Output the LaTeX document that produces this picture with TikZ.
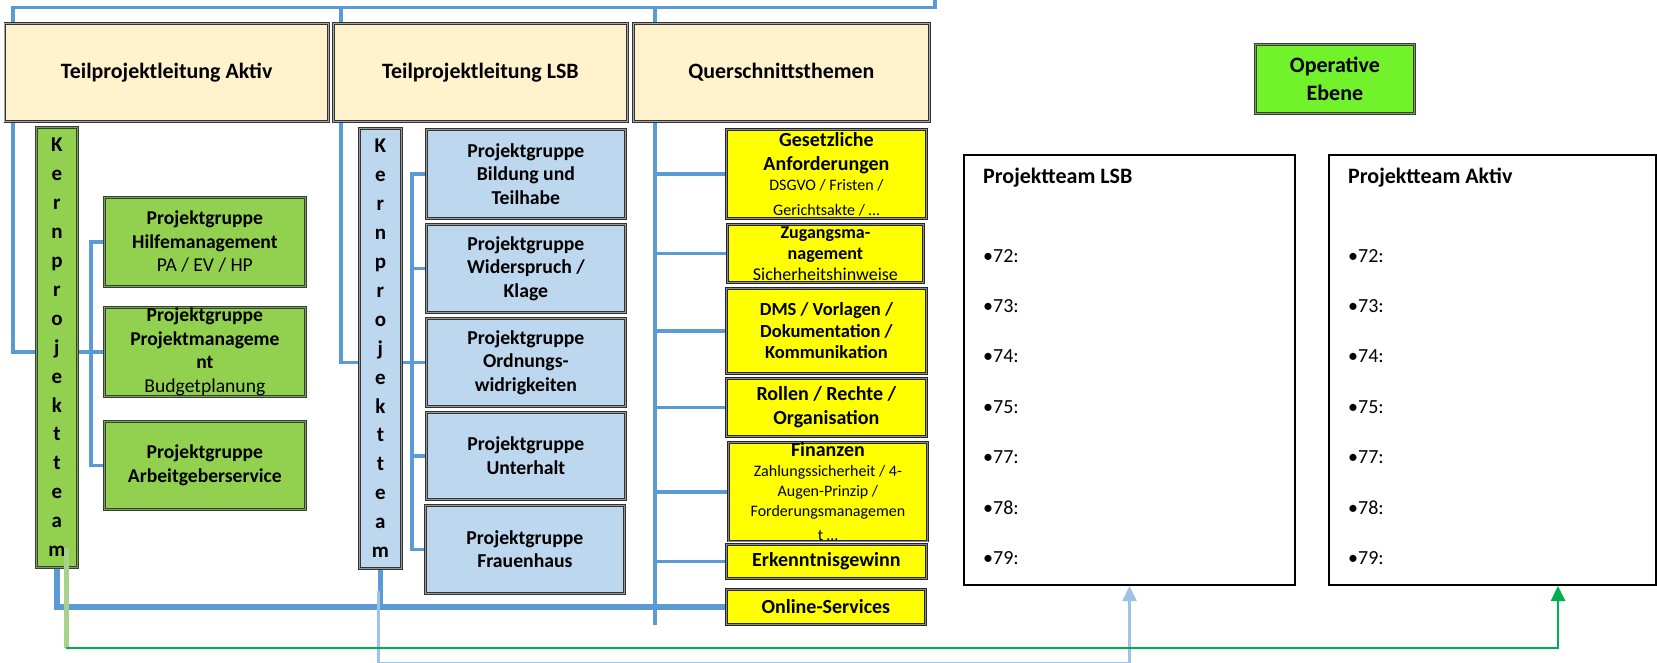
\documentclass[tikz,border=0pt]{standalone}
\usepackage{fontspec}
\setmainfont{Carlito}
\usetikzlibrary{arrows.meta}
\pgfdeclarelayer{bg}
\pgfsetlayers{bg,main}
\definecolor{hdrc}{HTML}{FFF2CC}
\definecolor{grnc}{HTML}{92D050}
\definecolor{blc}{HTML}{BDD7EE}
\definecolor{yelc}{HTML}{FFFF00}
\definecolor{opc}{HTML}{72F22A}
\definecolor{lnb}{HTML}{5B9BD5}
\definecolor{lbl}{HTML}{9DC3E6}
\definecolor{lgr}{HTML}{A9D18E}
\definecolor{dgr}{HTML}{00B050}
\definecolor{gdark}{HTML}{2E4A1A}
\tikzset{
  boxbase/.style={rectangle, anchor=north west, inner sep=0pt, align=flush center,
    line width=0.8pt, double distance=0.9pt},
  sz/.style 2 args={minimum width=#1 pt, minimum height=#2 pt, text width=#1 pt - 6pt},
  hdrbox/.style={boxbase, draw=black!80, double=black!35, fill=hdrc,
    font=\fontsize{21.9}{26}\selectfont\bfseries},
  gbox/.style={boxbase, draw=gdark, double=black!45, fill=grnc,
    font=\fontsize{19.6}{23.5}\selectfont\bfseries},
  bbox/.style={boxbase, draw=black!80, double=black!40, fill=blc,
    font=\fontsize{19.7}{23.5}\selectfont\bfseries},
  ybox/.style={boxbase, draw=black!85, double=black!45, fill=yelc,
    font=\fontsize{20}{24.5}\selectfont\bfseries},
  kbox/.style={boxbase, font=\fontsize{21}{28.9}\selectfont\bfseries},
  opbox/.style={boxbase, draw=gdark, double=black!45, fill=opc,
    font=\fontsize{22}{28}\selectfont\bfseries},
  teambox/.style={rectangle, anchor=north west, draw=black, line width=2pt, fill=white, inner sep=0pt},
  thead/.style={anchor=west, inner sep=0pt, font=\fontsize{22}{26}\selectfont\bfseries},
  titem/.style={anchor=west, inner sep=0pt, font=\fontsize{20}{24}\selectfont},
  conn/.style={draw=lnb, line width=3.6pt},
  connB/.style={draw=lnb, line width=5.5pt},
  lgline/.style={draw=lgr, line width=5.5pt},
  dgline/.style={draw=dgr, line width=2.6pt, -{Triangle[width=14pt,length=15pt]}},
  lbline/.style={draw=lbl, line width=2.5pt, -{Triangle[width=14pt,length=15pt]}},
}
\begin{document}
\begin{tikzpicture}[x=1pt,y=-1pt]
\useasboundingbox (0,0) rectangle (1657,663);

% headers
\node[hdrbox, sz={323.5}{98}] (hA) at (4.5,23) {Teilprojektleitung Aktiv};
\node[hdrbox, sz={294}{98}] (hL) at (333,23) {Teilprojektleitung LSB};
\node[hdrbox, sz={296}{98}] (hQ) at (633,23) {Querschnittsthemen};
\node[opbox, sz={159}{69}] (op) at (1255,44) {Operative\\Ebene};

% Kernprojektteam boxes
\node[kbox, draw=gdark, double=black!45, fill=grnc, sz={41}{440}] (kernA) at (36,127)
  {K\\e\\r\\n\\p\\r\\o\\j\\e\\k\\t\\t\\e\\a\\m};
\node[kbox, draw=black!80, double=black!40, fill=blc, sz={42}{440}] (kernL) at (359,128)
  {K\\e\\r\\n\\p\\r\\o\\j\\e\\k\\t\\t\\e\\a\\m};

% green groups
\node[gbox, sz={201}{89}] (gH) at (104,197) {Projektgruppe\\Hilfemanagement\\\mdseries PA / EV / HP};
\node[gbox, sz={201}{89}] (gP) at (104,307) {Projektgruppe\\Projektmanageme\\nt\\\mdseries Budgetplanung};
\node[gbox, sz={201}{88}] (gA) at (104,421) {Projektgruppe\\Arbeitgeberservice};

% blue groups
\node[bbox, sz={199}{89}] (b1) at (426,129) {Projektgruppe\\Bildung und\\Teilhabe};
\node[bbox, sz={199}{88}] (b2) at (426,224) {Projektgruppe\\Widerspruch /\\Klage};
\node[bbox, sz={199}{88}] (b3) at (426,318) {Projektgruppe\\Ordnungs-\\widrigkeiten};
\node[bbox, sz={199}{87}] (b4) at (426,412) {Projektgruppe\\Unterhalt};
\node[bbox, sz={199}{88}] (b5) at (425,505) {Projektgruppe\\Frauenhaus};

% yellow topics
\node[ybox, sz={200}{89}] (y1) at (726,129)
  {Gesetzliche\\Anforderungen\par\fontsize{16}{20}\selectfont\mdseries DSGVO / Fristen /\\Gerichtsakte / …};
\node[ybox, sz={196}{58}, font=\fontsize{18}{21}\selectfont\bfseries] (y2) at (727,224)
  {Zugangsma-\\nagement\\\mdseries Sicherheitshinweise};
\node[ybox, sz={200}{85}, font=\fontsize{18.5}{21.5}\selectfont\bfseries] (y3) at (726,288)
  {DMS / Vorlagen /\\Dokumentation /\\Kommunikation};
\node[ybox, sz={200}{58}] (y4) at (726,378) {Rollen / Rechte /\\Organisation};
\node[ybox, sz={199}{96}] (y5) at (728,442)
  {Finanzen\par\fontsize{16}{20}\selectfont\mdseries Zahlungssicherheit / 4-\\Augen-Prinzip /\\Forderungsmanagemen\\t …};
\node[ybox, sz={200}{34}] (y6) at (726,544) {Erkenntnisgewinn};
\node[ybox, sz={199}{35}] (y7) at (726,589) {Online-Services};

% project teams
\node[teambox, minimum width=331pt, minimum height=430pt] (tL) at (963,154) {};
\node[teambox, minimum width=327pt, minimum height=430pt] (tA) at (1328,154) {};
\node[thead] (tLh) at (983,178) {Projektteam LSB};
\node[thead] (tAh) at (1348,178) {Projektteam Aktiv};
\foreach \n/\yy in {72/256,73/306.3,74/356.6,75/406.9,77/457.2,78/507.5,79/557.8}{
  \node[titem] (tL\n) at (983,\yy) {•\n:};
  \node[titem] (tA\n) at (1348,\yy) {•\n:};
}

% reference coordinates for line positions
\coordinate (ytop) at (0,7.5);
\coordinate (topend) at (935,0);
\coordinate (ax) at (13,0);
\coordinate (lx) at (341,0);
\coordinate (qx) at (655,0);
\coordinate (bra) at (91,0);
\coordinate (brl) at (412,0);

\begin{pgfonlayer}{bg}
  % top distribution line
  \draw[conn] (topend) |- (ax |- ytop) -- (ax |- gP.west) -- (kernA.west |- gP.west);
  \draw[conn] (lx |- ytop) -- (lx |- b3.west) -- (kernL.west |- b3.west);
  \draw[conn] (qx |- ytop) -- (qx |- y7.south);
  % Aktiv bracket
  \draw[conn] (gH.west) -| (bra |- gA.west) -- (gA.west);
  \draw[conn] (kernA.east |- gP.west) -- (gP.west);
  % LSB bracket
  \draw[conn] (b1.west) -| (brl |- b5.west) -- (b5.west);
  \draw[conn] (brl |- b2.west) -- (b2.west);
  \draw[conn] (kernL.east |- b3.west) -- (b3.west);
  \draw[conn] (brl |- b4.west) -- (b4.west);
  % Querschnitt stubs
  \foreach \t in {y1,y2,y3,y4,y5,y6}{\draw[conn] (qx |- \t.west) -- (\t.west);}
  % bottom line
  \draw[connB] (kernA.south) |- (y7.west);
  \draw[connB] (kernL.south) -- (kernL.south |- y7.west);
\end{pgfonlayer}

% links to the operative teams
\draw[lbline] ([shift={(-2,22)}]kernL.south) -- ++(0,72) -| (tL.south);
\draw[lgline] ([shift={(9.5,-20)}]kernA.south) -- ([shift={(9.5,80)}]kernA.south);
\draw[dgline] ([shift={(9.5,80)}]kernA.south) -| ([xshift=65.5]tA.south);
\end{tikzpicture}
\end{document}
